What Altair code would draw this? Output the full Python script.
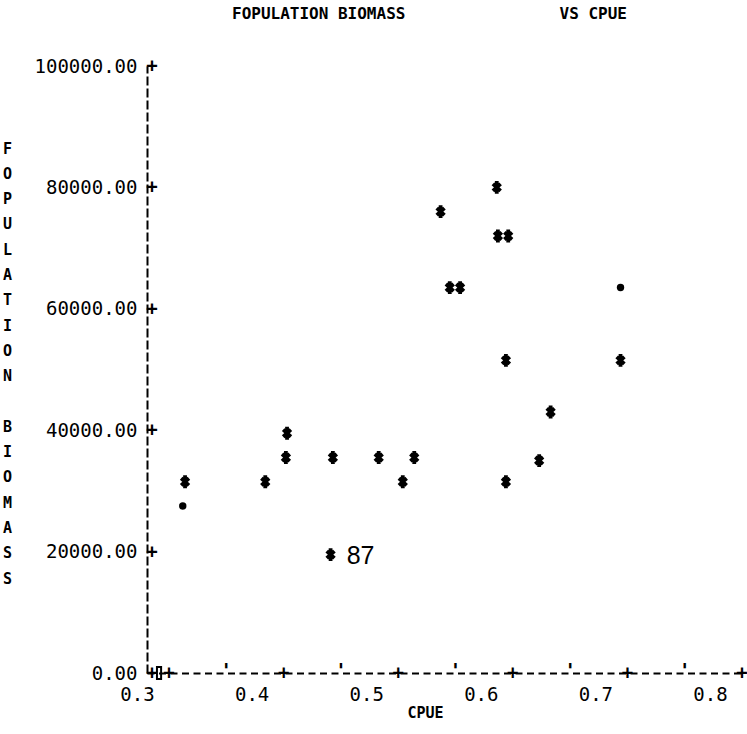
import altair as alt
import pandas as pd

# ---- data ----
star_x = [0.314, 0.384, 0.403, 0.402, 0.443, 0.441, 0.483, 0.504, 0.514, 0.537,
          0.545, 0.554, 0.586, 0.587, 0.596, 0.594, 0.594, 0.623, 0.633, 0.694]
star_y = [31500, 31500, 39500, 35500, 35500, 19500, 35500, 31500, 35500, 76000,
          63500, 63500, 80000, 72000, 72000, 51500, 31500, 35000, 43000, 51500]
dot_x = [0.312, 0.694]
dot_y = [27500, 63500]
note_x = [0.441]
note_y = [19500]
note_text = ["87"]

x_ticks = [0.3, 0.4, 0.5, 0.6, 0.7, 0.8]
x_minor = [0.35, 0.45, 0.55, 0.65, 0.75]
y_ticks = [0, 20000, 40000, 60000, 80000, 100000]
X_MIN, X_MAX = 0.2808, 0.8
Y_MIN, Y_MAX = 0, 100000
y_title = ["F", "O", "P", "U", "L", "A", "T", "I", "O", "N", "\u200b",
           "B", "I", "O", "M", "A", "S", "S"]
title_text = "FOPULATION BIOMASS" + "\u00a0" * 16 + "VS CPUE"

MONO = "DejaVu Sans Mono"

stars = pd.DataFrame({"x": star_x, "y": star_y})
dots = pd.DataFrame({"x": dot_x, "y": dot_y})
notes = pd.DataFrame({"x": note_x, "y": note_y, "t": note_text})
ytick_df = pd.DataFrame({"x": [X_MIN] * len(y_ticks), "y": y_ticks})
xtick_df = pd.DataFrame({"x": x_ticks, "y": [Y_MIN] * len(x_ticks)})
xminor_df = pd.DataFrame({"x": x_minor, "y": [Y_MIN] * len(x_minor)})
box_df = pd.DataFrame({"x": [0.2913], "y": [Y_MIN]})

xscale = alt.Scale(domain=[X_MIN, X_MAX], nice=False, zero=False)
yscale = alt.Scale(domain=[Y_MIN, Y_MAX], nice=False, zero=False)

xaxis = alt.Axis(
    values=x_ticks, format=".1f", labelOffset=-32, ticks=False, grid=False,
    labelFlush=False, labelPadding=12, labelFont=MONO, labelFontSize=19,
    labelColor="black", domainColor="black", domainWidth=2, domainDash=[7, 4.5],
    title="CPUE", titleFont=MONO, titleFontSize=15, titleFontWeight="bold",
    titleColor="black", titleX=278, titleY=39, titleBaseline="middle",
)
yaxis = alt.Axis(
    values=y_ticks, format=".2f", ticks=False, grid=False, labelPadding=10,
    labelFont=MONO, labelFontSize=19, labelColor="black", labelFlush=False,
    domainColor="black", domainWidth=2, domainDash=[9, 3],
    title=y_title, titleAngle=0, titleAlign="center", titleBaseline="top",
    titleX=-140, titleY=75, titleLineHeight=25.3, titleFont=MONO,
    titleFontSize=15, titleFontWeight="bold", titleColor="black",
)

xenc = alt.X("x:Q", scale=xscale, axis=xaxis)
yenc = alt.Y("y:Q", scale=yscale, axis=yaxis)

star_path = "M0,-1L0,1M-0.6,-0.55L0.6,0.55M-0.6,0.55L0.6,-0.55"
box_path = "M-0.35,-1L0.35,-1L0.35,1L-0.35,1Z"

star_layer = alt.Chart(stars).mark_point(
    shape=star_path, size=165, filled=False, stroke="black", strokeWidth=3.8, opacity=1
).encode(x=xenc, y=yenc)

dot_layer = alt.Chart(dots).mark_point(
    shape="circle", size=55, filled=True, color="black", opacity=1
).encode(x=xenc, y=yenc)

note_layer = alt.Chart(notes).mark_text(
    dx=30, dy=1, fontSize=25, font="Liberation Sans", color="black", align="center",
    baseline="middle"
).encode(x=xenc, y=yenc, text="t:N")

ytick_layer = alt.Chart(ytick_df).mark_text(
    text="+", dx=5, fontSize=19, font=MONO, fontWeight="bold", color="black",
    align="center", baseline="middle"
).encode(x=xenc, y=yenc)

xtick_layer = alt.Chart(xtick_df).mark_text(
    text="+", fontSize=19, font=MONO, fontWeight="bold", color="black",
    align="center", baseline="middle"
).encode(x=xenc, y=yenc)

xminor_layer = alt.Chart(xminor_df).mark_text(
    text="'", dy=-2, fontSize=19, font=MONO, fontWeight="bold", color="black",
    align="center", baseline="middle"
).encode(x=xenc, y=yenc)

box_layer = alt.Chart(box_df).mark_point(
    shape=box_path, size=140, filled=False, stroke="black", strokeWidth=2, opacity=1
).encode(x=xenc, y=yenc)

chart = alt.layer(
    star_layer, dot_layer, note_layer, ytick_layer, xtick_layer, xminor_layer, box_layer
).properties(
    width=595, height=607,
    padding={"left": 147, "top": 66, "right": 5, "bottom": 61},
    autosize=alt.AutoSizeParams(type="none"),
    title=alt.TitleParams(
        text=title_text, anchor="start", dx=85, offset=19, baseline="bottom",
        frame="group", font=MONO, fontSize=16, fontWeight="bold", color="black",
    ),
    background="white",
).configure_view(stroke=None)

chart.save("out.html", embed_options={"renderer": "svg", "actions": False})
